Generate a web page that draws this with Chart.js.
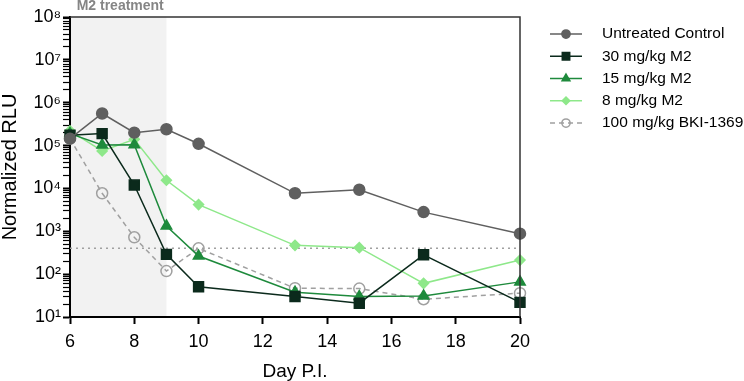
<!DOCTYPE html>
<html>
<head>
<meta charset="utf-8">
<script src="https://cdn.jsdelivr.net/npm/chart.js@4.4.1/dist/chart.umd.min.js"></script>
<style>
  html, body { margin: 0; padding: 0; background: #fff; }
  #wrap { width: 744px; height: 381px; position: relative; }
</style>
</head>
<body>
<div id="wrap"><canvas id="rluChart" width="744" height="381"></canvas></div>
<script>
// data
var days = [6, 7, 8, 9, 10, 13, 15, 17, 20];
var untreated = [145000, 560000, 200000, 240000, 110000, 7700, 9300, 2800, 880];
var m2_30 = [175000, 190000, 12000, 290, 51, 30, 21, 283, 22];
var m2_15 = [190000, 103000, 105000, 1330, 265, 38, 30, 31, 66];
var m2_8 = [220000, 75000, 140000, 15500, 4200, 470, 415, 61, 213];
var bki = [145000, 7700, 725, 118, 400, 47, 46, 26, 36];
var cutoff = 400;
var treatmentDays = [6, 9];
var yTicks = [10, 100, 1000, 10000, 100000, 1000000, 10000000, 100000000];

var FONT = "'Liberation Sans', Arial, sans-serif";
var sup = ['\u2070', '\u00b9', '\u00b2', '\u00b3', '\u2074', '\u2075', '\u2076', '\u2077', '\u2078', '\u2079'];

function pts(vals) {
  return days.map(function (d, i) { return { x: d, y: vals[i] }; });
}

function series(label, vals, color, style, radius, fill, dash) {
  return {
    label: label,
    data: pts(vals),
    borderColor: color,
    backgroundColor: fill,
    pointBackgroundColor: fill,
    pointBorderColor: color,
    pointStyle: style,
    pointRadius: radius,
    pointHoverRadius: radius,
    pointBorderWidth: 1.5,
    borderWidth: 1.5,
    borderDash: dash || [],
    tension: 0,
    clip: false
  };
}

var datasets = [
  series('Untreated Control', untreated, '#5f5f5f', 'circle', 5.5, '#5f5f5f'),
  series('30 mg/kg M2', m2_30, '#0b2a1c', 'rect', 7, '#0b2a1c'),
  series('15 mg/kg M2', m2_15, '#1e8a3c', 'triangle', 6, '#1e8a3c'),
  series('8 mg/kg M2', m2_8, '#8ee88a', 'rectRot', 5, '#8ee88a'),
  series('100 mg/kg BKI-1369', bki, '#a0a0a0', 'circle', 5.5, 'rgba(255,255,255,0)', [5, 4]),
  {
    label: 'cutoff',
    data: [{ x: days[0], y: cutoff }, { x: days[days.length - 1], y: cutoff }],
    borderColor: '#a0a0a0',
    borderWidth: 1.5,
    borderDash: [2, 4],
    pointRadius: 0,
    clip: false
  }
];

// grey band for the treatment window + label above it
var treatmentBand = {
  id: 'treatmentBand',
  beforeDraw: function (chart) {
    var ctx = chart.ctx, a = chart.chartArea, xs = chart.scales.x;
    var x0 = xs.getPixelForValue(treatmentDays[0]);
    var x1 = xs.getPixelForValue(treatmentDays[1]);
    ctx.save();
    ctx.fillStyle = '#f2f2f2';
    ctx.fillRect(x0, a.top, x1 - x0, a.bottom - a.top);
    ctx.fillStyle = '#858585';
    ctx.font = 'bold 14px ' + FONT;
    ctx.textAlign = 'center';
    ctx.textBaseline = 'middle';
    ctx.fillText('M2 treatment', (x0 + x1) / 2 + 2, 6);
    ctx.restore();
  }
};

// top + right frame lines, and the legend with line+marker samples
var frameAndLegend = {
  id: 'frameAndLegend',
  afterDraw: function (chart) {
    var ctx = chart.ctx, a = chart.chartArea;
    ctx.save();
    ctx.strokeStyle = '#333';
    ctx.lineWidth = 1.5;
    ctx.beginPath();
    ctx.moveTo(a.left, a.top);
    ctx.lineTo(a.right, a.top);
    ctx.lineTo(a.right, a.bottom);
    ctx.stroke();

    var lx0 = a.right + 30, lx1 = a.right + 62, tx = a.right + 82;
    var y = 34;
    ctx.font = '15.5px ' + FONT;
    ctx.textBaseline = 'middle';
    ctx.textAlign = 'left';
    chart.data.datasets.forEach(function (ds) {
      if (ds.label === 'cutoff') return;
      ctx.strokeStyle = ds.borderColor;
      ctx.lineWidth = ds.borderWidth;
      ctx.setLineDash(ds.borderDash || []);
      ctx.beginPath();
      ctx.moveTo(lx0, y);
      ctx.lineTo(lx1, y);
      ctx.stroke();
      ctx.setLineDash([]);
      ctx.fillStyle = ds.pointBackgroundColor;
      ctx.strokeStyle = ds.pointBorderColor;
      ctx.lineWidth = 1.5;
      Chart.helpers.drawPoint(ctx, {
        pointStyle: ds.pointStyle,
        radius: ds.pointRadius * 0.75,
        borderWidth: 1.5,
        rotation: 0
      }, (lx0 + lx1) / 2, y);
      ctx.fillStyle = '#000';
      ctx.fillText(ds.label, tx, y);
      y += 22.25;
    });
    ctx.restore();
  }
};

new Chart(document.getElementById('rluChart'), {
  type: 'line',
  data: { datasets: datasets },
  options: {
    responsive: false,
    animation: false,
    layout: { padding: { top: 17, right: 224, left: 0, bottom: 0 } },
    plugins: {
      legend: { display: false },
      tooltip: { enabled: false }
    },
    scales: {
      x: {
        type: 'linear',
        min: 6,
        max: 20,
        ticks: {
          stepSize: 2,
          color: '#000',
          font: { family: FONT, size: 18 },
          padding: 7,
          maxRotation: 0
        },
        grid: {
          drawOnChartArea: false,
          drawTicks: true,
          tickLength: 7,
          tickWidth: 2,
          tickColor: '#000'
        },
        border: { color: '#000', width: 2 },
        title: {
          display: true,
          text: 'Day P.I.',
          color: '#000',
          font: { family: FONT, size: 19, lineHeight: 1 },
          padding: { top: 0, bottom: 0 }
        },
        afterFit: function (s) { s.height = 64; }
      },
      y: {
        type: 'logarithmic',
        min: 10,
        max: 100000000,
        afterBuildTicks: function (s) {
          var t = [];
          for (var e = 1; e < 8; e++) {
            for (var k = 1; k < 10; k++) t.push({ value: k * Math.pow(10, e) });
          }
          t.push({ value: yTicks[yTicks.length - 1] });
          s.ticks = t;
        },
        ticks: {
          autoSkip: false,
          color: '#000',
          font: { family: FONT, size: 18 },
          padding: 2,
          callback: function (v) {
            var i = yTicks.indexOf(v);
            if (i < 0) return '';
            return '10' + sup[i + 1];
          }
        },
        grid: {
          drawOnChartArea: false,
          drawTicks: true,
          tickLength: 7,
          tickWidth: function (c) { return yTicks.indexOf(c.tick.value) >= 0 ? 2 : 1.2; },
          tickColor: '#000'
        },
        border: { color: '#000', width: 2 },
        title: {
          display: true,
          text: 'Normalized RLU',
          color: '#000',
          font: { family: FONT, size: 20, lineHeight: 1 },
          padding: { top: 0, bottom: 0 }
        },
        afterFit: function (s) { s.width = 70; }
      }
    }
  },
  plugins: [treatmentBand, frameAndLegend]
});
</script>
</body>
</html>
